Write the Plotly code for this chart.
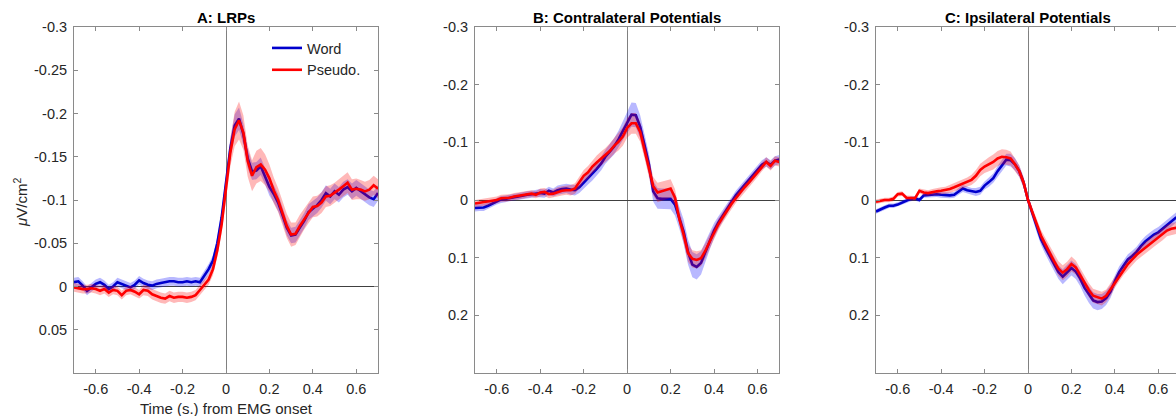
import numpy as np
import plotly.graph_objects as go

# ---------------- data ----------------
time_s = np.round(np.linspace(-0.7, 0.7, 71), 2)

A_word = [-0.005, -0.006, -0.001, 0.005, 0.001, -0.003, -0.005, -0.002, 0.003, 0.000,
          -0.005, -0.003, -0.001, 0.001, -0.002, -0.007, -0.004, -0.002, -0.001, -0.003,
          -0.004, -0.005, -0.006, -0.006, -0.005, -0.005, -0.006, -0.005, -0.006, -0.005,
          -0.012, -0.020, -0.030, -0.050, -0.080, -0.118,
          -0.160, -0.186, -0.194, -0.176, -0.148, -0.133, -0.134, -0.139, -0.128, -0.115,
          -0.107, -0.097, -0.083, -0.068, -0.059, -0.060, -0.068, -0.076, -0.086, -0.090,
          -0.094, -0.100, -0.108, -0.104, -0.110, -0.106, -0.112, -0.115, -0.110, -0.114,
          -0.110, -0.107, -0.103, -0.101, -0.108]
A_pseudo = [0.001, 0.002, 0.003, 0.003, 0.002, 0.003, 0.005, 0.003, 0.007, 0.004,
            0.005, 0.010, 0.005, 0.004, 0.006, 0.009, 0.004, 0.005, 0.009, 0.011,
            0.013, 0.014, 0.011, 0.013, 0.012, 0.012, 0.013, 0.012, 0.010, 0.004,
            -0.002, -0.008, -0.020, -0.042, -0.072, -0.112,
            -0.155, -0.182, -0.192, -0.178, -0.145, -0.128, -0.138, -0.141, -0.135, -0.125,
            -0.111, -0.100, -0.085, -0.070, -0.060, -0.061, -0.070, -0.078, -0.085, -0.092,
            -0.093, -0.097, -0.104, -0.105, -0.108, -0.112, -0.116, -0.120, -0.112, -0.113,
            -0.112, -0.110, -0.112, -0.117, -0.113]
A_word_sem = [0.005, 0.005, 0.005, 0.005, 0.005, 0.005, 0.005, 0.005, 0.005, 0.005,
              0.005, 0.005, 0.005, 0.005, 0.005, 0.005, 0.005, 0.005, 0.005, 0.005,
              0.005, 0.005, 0.005, 0.005, 0.005, 0.005, 0.005, 0.005, 0.005, 0.005,
              0.006, 0.006, 0.006, 0.007, 0.008, 0.009,
              0.011, 0.013, 0.013, 0.012, 0.011, 0.010, 0.010, 0.010, 0.010, 0.010,
              0.010, 0.010, 0.009, 0.009, 0.009, 0.009, 0.009, 0.009, 0.009, 0.009,
              0.009, 0.009, 0.009, 0.009, 0.009, 0.009, 0.009, 0.009, 0.009, 0.009,
              0.009, 0.009, 0.009, 0.009, 0.009]
A_pseudo_sem = [0.005, 0.005, 0.005, 0.005, 0.005, 0.005, 0.005, 0.005, 0.005, 0.005,
                0.005, 0.005, 0.005, 0.005, 0.005, 0.005, 0.006, 0.006, 0.006, 0.006,
                0.006, 0.006, 0.006, 0.006, 0.006, 0.006, 0.006, 0.006, 0.006, 0.006,
                0.006, 0.006, 0.007, 0.008, 0.010, 0.012,
                0.016, 0.020, 0.022, 0.020, 0.018, 0.018, 0.019, 0.019, 0.018, 0.016,
                0.015, 0.014, 0.014, 0.014, 0.014, 0.013, 0.013, 0.012, 0.012, 0.012,
                0.012, 0.012, 0.012, 0.012, 0.012, 0.012, 0.012, 0.012, 0.012, 0.012,
                0.011, 0.011, 0.011, 0.011, 0.011]

B_word = [0.014, 0.013, 0.013, 0.010, 0.006, 0.002, -0.001, -0.002, -0.004, -0.005,
          -0.006, -0.008, -0.009, -0.010, -0.011, -0.012, -0.011, -0.016, -0.013, -0.017,
          -0.019, -0.020, -0.018, -0.017, -0.022, -0.030, -0.038, -0.045, -0.054, -0.063,
          -0.075, -0.084, -0.093, -0.105, -0.120, -0.135,
          -0.148, -0.147, -0.127, -0.095, -0.062, -0.015, -0.003, -0.002, -0.002, -0.002,
          0.008, 0.030, 0.055, 0.090, 0.112, 0.116, 0.109, 0.090, 0.071, 0.053,
          0.039, 0.027, 0.014, 0.002, -0.008, -0.017, -0.026, -0.035, -0.045, -0.052,
          -0.061, -0.066, -0.061, -0.068, -0.070]
B_pseudo = [0.006, 0.005, 0.004, 0.003, 0.002, 0.000, -0.003, -0.003, -0.004, -0.006,
            -0.007, -0.008, -0.010, -0.011, -0.009, -0.013, -0.014, -0.010, -0.011, -0.014,
            -0.016, -0.017, -0.017, -0.020, -0.030, -0.042, -0.048, -0.058, -0.065, -0.072,
            -0.078, -0.085, -0.094, -0.101, -0.110, -0.125,
            -0.133, -0.133, -0.118, -0.088, -0.058, -0.024, -0.013, -0.015, -0.018, -0.020,
            -0.004, 0.033, 0.060, 0.092, 0.102, 0.104, 0.101, 0.088, 0.072, 0.056,
            0.042, 0.030, 0.018, 0.007, -0.003, -0.013, -0.022, -0.030, -0.039, -0.048,
            -0.058, -0.066, -0.059, -0.068, -0.066]
B_word_sem = [0.006, 0.006, 0.006, 0.006, 0.006, 0.006, 0.006, 0.006, 0.006, 0.006,
              0.006, 0.006, 0.006, 0.006, 0.006, 0.007, 0.007, 0.007, 0.007, 0.008,
              0.008, 0.008, 0.009, 0.009, 0.010, 0.010, 0.011, 0.011, 0.012, 0.012,
              0.012, 0.013, 0.014, 0.015, 0.017, 0.019,
              0.021, 0.021, 0.020, 0.019, 0.018, 0.018, 0.018, 0.018, 0.018, 0.018,
              0.019, 0.020, 0.021, 0.022, 0.022, 0.022, 0.020, 0.018, 0.015, 0.013,
              0.011, 0.010, 0.009, 0.009, 0.008, 0.008, 0.008, 0.008, 0.008, 0.008,
              0.008, 0.008, 0.008, 0.008, 0.008]
B_pseudo_sem = [0.006, 0.006, 0.006, 0.006, 0.006, 0.006, 0.006, 0.006, 0.006, 0.006,
                0.006, 0.006, 0.006, 0.006, 0.006, 0.007, 0.007, 0.007, 0.007, 0.008,
                0.008, 0.008, 0.009, 0.009, 0.010, 0.010, 0.011, 0.011, 0.012, 0.012,
                0.012, 0.013, 0.014, 0.015, 0.016, 0.017,
                0.018, 0.018, 0.017, 0.016, 0.016, 0.016, 0.017, 0.017, 0.017, 0.016,
                0.015, 0.015, 0.015, 0.015, 0.015, 0.015, 0.014, 0.013, 0.012, 0.011,
                0.010, 0.009, 0.009, 0.009, 0.008, 0.008, 0.008, 0.008, 0.008, 0.008,
                0.008, 0.008, 0.008, 0.008, 0.008]

C_word = [0.020, 0.016, 0.013, 0.010, 0.010, 0.008, 0.005, 0.001, -0.002, -0.003,
          0.000, -0.008, -0.009, -0.010, -0.010, -0.009, -0.008, -0.008, -0.009, -0.015,
          -0.020, -0.017, -0.015, -0.014, -0.016, -0.025, -0.031, -0.038, -0.050, -0.060,
          -0.070, -0.069, -0.062, -0.050, -0.030, 0.000,
          0.024, 0.047, 0.068, 0.083, 0.097, 0.112, 0.125, 0.133, 0.126, 0.118,
          0.124, 0.136, 0.152, 0.164, 0.174, 0.177, 0.176, 0.170, 0.159, 0.141,
          0.125, 0.114, 0.103, 0.097, 0.090, 0.080, 0.072, 0.066, 0.060, 0.056,
          0.050, 0.043, 0.037, 0.031, 0.028]
C_pseudo = [0.003, 0.001, 0.000, 0.000, -0.002, -0.010, -0.011, -0.004, -0.003, -0.003,
            -0.016, -0.013, -0.012, -0.014, -0.015, -0.016, -0.017, -0.019, -0.022, -0.025,
            -0.028, -0.031, -0.035, -0.042, -0.052, -0.058, -0.062, -0.066, -0.072, -0.075,
            -0.074, -0.072, -0.062, -0.050, -0.030, 0.000,
            0.021, 0.043, 0.062, 0.077, 0.092, 0.106, 0.119, 0.126, 0.120, 0.111,
            0.117, 0.130, 0.144, 0.156, 0.166, 0.169, 0.171, 0.166, 0.155, 0.142,
            0.131, 0.120, 0.111, 0.103, 0.095, 0.089, 0.083, 0.077, 0.071, 0.065,
            0.060, 0.053, 0.050, 0.049, 0.047]
C_word_sem = [0.004, 0.004, 0.004, 0.004, 0.004, 0.004, 0.004, 0.004, 0.004, 0.004,
              0.004, 0.004, 0.004, 0.005, 0.005, 0.005, 0.005, 0.005, 0.005, 0.006,
              0.006, 0.006, 0.006, 0.007, 0.007, 0.007, 0.008, 0.008, 0.009, 0.010,
              0.010, 0.011, 0.011, 0.010, 0.009, 0.008,
              0.008, 0.009, 0.010, 0.011, 0.012, 0.012, 0.012, 0.013, 0.013, 0.013,
              0.013, 0.013, 0.013, 0.014, 0.014, 0.014, 0.013, 0.012, 0.011, 0.010,
              0.010, 0.009, 0.009, 0.009, 0.009, 0.009, 0.009, 0.009, 0.009, 0.009,
              0.009, 0.009, 0.009, 0.009, 0.009]
C_pseudo_sem = [0.004, 0.004, 0.004, 0.004, 0.004, 0.004, 0.004, 0.004, 0.004, 0.004,
                0.004, 0.005, 0.005, 0.005, 0.006, 0.006, 0.006, 0.007, 0.007, 0.008,
                0.008, 0.008, 0.009, 0.010, 0.011, 0.011, 0.012, 0.013, 0.013, 0.013,
                0.013, 0.012, 0.011, 0.010, 0.009, 0.008,
                0.008, 0.009, 0.010, 0.011, 0.012, 0.012, 0.013, 0.013, 0.013, 0.013,
                0.012, 0.012, 0.012, 0.012, 0.012, 0.012, 0.012, 0.011, 0.011, 0.010,
                0.010, 0.010, 0.010, 0.010, 0.010, 0.010, 0.010, 0.010, 0.010, 0.010,
                0.010, 0.010, 0.010, 0.010, 0.010]

panel_titles = ["A: LRPs", "B: Contralateral Potentials", "C: Ipsilateral Potentials"]
series_names = ["Word", "Pseudo."]
x_ticks = [-0.6, -0.4, -0.2, 0, 0.2, 0.4, 0.6]
x_tick_labels = ["-0.6", "-0.4", "-0.2", "0", "0.2", "0.4", "0.6"]
yA_ticks = [-0.3, -0.25, -0.2, -0.15, -0.1, -0.05, 0, 0.05]
yA_tick_labels = ["-0.3", "-0.25", "-0.2", "-0.15", "-0.1", "-0.05", "0", "0.05"]
yBC_ticks = [-0.3, -0.2, -0.1, 0, 0.1, 0.2]
yBC_tick_labels = ["-0.3", "-0.2", "-0.1", "0", "0.1", "0.2"]
x_label = "Time (s.) from EMG onset"
y_label = "<i>μ</i>V/cm<sup>2</sup>"

# ---------------- styling ----------------
W, H = 1176, 416
FONT = "Liberation Sans, Arial, Helvetica, sans-serif"
BLUE_LINE = "rgb(0,0,205)"
RED_LINE = "rgb(255,0,0)"
BLUE_FILL = "rgba(0,0,255,0.28)"
RED_FILL = "rgba(255,0,0,0.28)"
FRAME = "#8a8a8a"
TXT = "#262626"
TICK_SIZE = 14.5

px_top, px_bot = 27, 373
y_dom = [1 - px_bot / H, 1 - px_top / H]
x_doms = [[74 / W, 378 / W], [475 / W, 779.3 / W], [876 / W, 1.0]]
x_ranges = [[-0.7, 0.7], [-0.7, 0.7], [-0.7, 0.7 * (1176 - 1028) / 152]]
y_ranges = [[0.1, -0.3], [0.3, -0.3], [0.3, -0.3]]
title_cx = [226, 627, 1028]

panels = [
    (A_word, A_word_sem, A_pseudo, A_pseudo_sem),
    (B_word, B_word_sem, B_pseudo, B_pseudo_sem),
    (C_word, C_word_sem, C_pseudo, C_pseudo_sem),
]

fig = go.Figure()
tx = list(time_s)
for i, (w, ws, p, ps) in enumerate(panels):
    xa = "x" if i == 0 else f"x{i+1}"
    ya = "y" if i == 0 else f"y{i+1}"
    w = np.array(w); ws = np.array(ws); p = np.array(p); ps = np.array(ps)
    for mean, sem, lc, fc, name in [(w, ws, BLUE_LINE, BLUE_FILL, series_names[0]),
                                    (p, ps, RED_LINE, RED_FILL, series_names[1])]:
        fig.add_trace(go.Scatter(
            x=tx + tx[::-1], y=list(mean - sem) + list((mean + sem)[::-1]),
            fill="toself", fillcolor=fc, line=dict(width=0), mode="lines",
            hoverinfo="skip", showlegend=False, xaxis=xa, yaxis=ya))
        fig.add_trace(go.Scatter(
            x=tx, y=list(mean), mode="lines", line=dict(color=lc, width=2.6),
            name=name, showlegend=(i == 0), xaxis=xa, yaxis=ya))

layout = dict(
    width=W, height=H, margin=dict(l=0, r=0, t=0, b=0, autoexpand=False),
    paper_bgcolor="white", plot_bgcolor="white",
    font=dict(family=FONT, size=TICK_SIZE, color=TXT),
    showlegend=True,
    legend=dict(x=267 / W, y=1 - 32 / H, xanchor="left", yanchor="top",
                bgcolor="rgba(0,0,0,0)", borderwidth=0,
                font=dict(family=FONT, size=14.5, color=TXT),
                tracegroupgap=0, itemwidth=30),
)
for i in range(3):
    sx = "" if i == 0 else str(i + 1)
    yt = yA_ticks if i == 0 else yBC_ticks
    ytl = yA_tick_labels if i == 0 else yBC_tick_labels
    layout[f"xaxis{sx}"] = dict(
        domain=x_doms[i], range=x_ranges[i], anchor=f"y{sx}", automargin=False,
        tickmode="array", tickvals=x_ticks, ticktext=x_tick_labels,
        ticks="inside", ticklen=4, tickcolor=FRAME, tickwidth=1,
        showline=True, linecolor=FRAME, linewidth=1, mirror="ticks",
        showgrid=False, zeroline=True, zerolinecolor="#808080", zerolinewidth=1,
        tickfont=dict(family=FONT, size=TICK_SIZE, color=TXT), ticklabelstandoff=3)
    layout[f"yaxis{sx}"] = dict(
        domain=y_dom, range=y_ranges[i], anchor=f"x{sx}", automargin=False,
        tickmode="array", tickvals=yt, ticktext=ytl,
        ticks="inside", ticklen=4, tickcolor=FRAME, tickwidth=1,
        showline=True, linecolor=FRAME, linewidth=1,
        mirror=("ticks" if i < 2 else False),
        showgrid=False, zeroline=True, zerolinecolor="#404040", zerolinewidth=1,
        tickfont=dict(family=FONT, size=TICK_SIZE, color=TXT), ticklabelstandoff=3)
fig.update_layout(**layout)

annots = []
for i, title in enumerate(panel_titles):
    annots.append(dict(text=f"<b>{title}</b>", x=title_cx[i] / W, y=1 - 18 / H,
                       xref="paper", yref="paper",
                       xanchor="center", yanchor="middle", showarrow=False,
                       font=dict(family=FONT, size=15, color="#000000")))
annots.append(dict(text=x_label, x=226 / W, y=1 - 408 / H, xref="paper", yref="paper",
                   xanchor="center", yanchor="middle", showarrow=False,
                   font=dict(family=FONT, size=15, color=TXT)))
annots.append(dict(text=y_label, x=21 / W, y=1 - 203 / H, xref="paper", yref="paper",
                   xanchor="center", yanchor="middle", showarrow=False, textangle=-90,
                   font=dict(family=FONT, size=15, color=TXT)))
fig.update_layout(annotations=annots)

fig.write_html("out.html", config={"displayModeBar": False},
               post_script="document.body.style.margin='0';document.body.style.overflow='hidden';")
